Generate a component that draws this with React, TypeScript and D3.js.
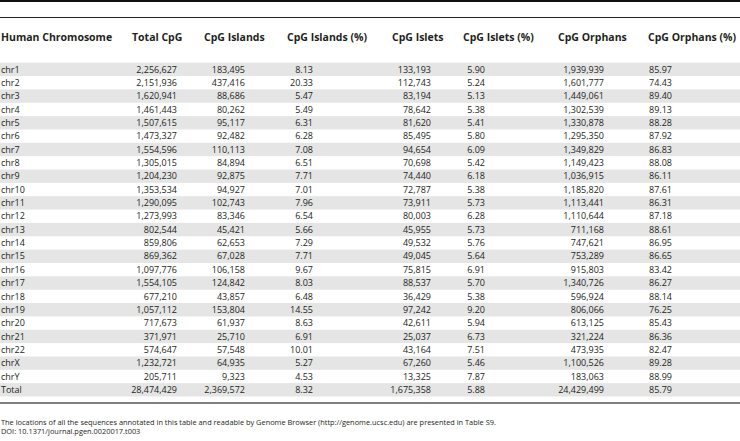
import React from 'react';
import * as d3 from 'd3';

const chromosomes = ['chr1', 'chr2', 'chr3', 'chr4', 'chr5', 'chr6', 'chr7', 'chr8', 'chr9', 'chr10', 'chr11', 'chr12', 'chr13', 'chr14', 'chr15', 'chr16', 'chr17', 'chr18', 'chr19', 'chr20', 'chr21', 'chr22', 'chrX', 'chrY', 'Total'];
const totalCpg = [2256627, 2151936, 1620941, 1461443, 1507615, 1473327, 1554596, 1305015, 1204230, 1353534, 1290095, 1273993, 802544, 859806, 869362, 1097776, 1554105, 677210, 1057112, 717673, 371971, 574647, 1232721, 205711, 28474429];
const cpgIslands = [183495, 437416, 88686, 80262, 95117, 92482, 110113, 84894, 92875, 94927, 102743, 83346, 45421, 62653, 67028, 106158, 124842, 43857, 153804, 61937, 25710, 57548, 64935, 9323, 2369572];
const islandsPct = [8.13, 20.33, 5.47, 5.49, 6.31, 6.28, 7.08, 6.51, 7.71, 7.01, 7.96, 6.54, 5.66, 7.29, 7.71, 9.67, 8.03, 6.48, 14.55, 8.63, 6.91, 10.01, 5.27, 4.53, 8.32];
const cpgIslets = [133193, 112743, 83194, 78642, 81620, 85495, 94654, 70698, 74440, 72787, 73911, 80003, 45955, 49532, 49045, 75815, 88537, 36429, 97242, 42611, 25037, 43164, 67260, 13325, 1675358];
const isletsPct = [5.90, 5.24, 5.13, 5.38, 5.41, 5.80, 6.09, 5.42, 6.18, 5.38, 5.73, 6.28, 5.73, 5.76, 5.64, 6.91, 5.70, 5.38, 9.20, 5.94, 6.73, 7.51, 5.46, 7.87, 5.88];
const cpgOrphans = [1939939, 1601777, 1449061, 1302539, 1330878, 1295350, 1349829, 1149423, 1036915, 1185820, 1113441, 1110644, 711168, 747621, 753289, 915803, 1340726, 596924, 806066, 613125, 321224, 473935, 1100526, 183063, 24429499];
const orphansPct = [85.97, 74.43, 89.40, 89.13, 88.28, 87.92, 86.83, 88.08, 86.11, 87.61, 86.31, 87.18, 88.61, 86.95, 86.65, 83.42, 86.27, 88.14, 76.25, 85.43, 86.36, 82.47, 89.28, 88.99, 85.79];

const headers = ['Human Chromosome', 'Total CpG', 'CpG Islands', 'CpG Islands (%)', 'CpG Islets', 'CpG Islets (%)', 'CpG Orphans', 'CpG Orphans (%)'];
const footnote = 'The locations of all the sequences annotated in this table and readable by Genome Browser (http://genome.ucsc.edu) are presented in Table S9.';
const doiLine = 'DOI: 10.1371/journal.pgen.0020017.t003';

const width = 740;
const height = 441;
const font = '"Open Sans", "Noto Sans", sans-serif';

const fmtInt = d3.format(',');
const fmtPct = d3.format('.2f');

// header left edges and value right edges per column
const headerX = [1, 132, 204, 287, 392, 463, 558, 648];
const valueX = [1, 177, 245, 313, 431, 485, 604, 672];

const columns = [
    { values: totalCpg, fmt: fmtInt },
    { values: cpgIslands, fmt: fmtInt },
    { values: islandsPct, fmt: fmtPct },
    { values: cpgIslets, fmt: fmtInt },
    { values: isletsPct, fmt: fmtPct },
    { values: cpgOrphans, fmt: fmtInt },
    { values: orphansPct, fmt: fmtPct },
];

const App = () => {
    const y = d3.scaleBand()
        .domain(chromosomes)
        .range([62.7, 396.5])
        .paddingInner(0);

    const textColor = '#231f20';

    return (
        <svg width={width} height={height} style={{ position: 'absolute', left: 0, top: 0 }} fontFamily={font}>
            <rect x={0} y={0} width={width} height={height} fill="#fff" />
            <line x1={0} x2={width} y1={1} y2={1} stroke="#111" strokeWidth={2} />
            <line x1={0} x2={width} y1={17.5} y2={17.5} stroke="#222" strokeWidth={1} />

            {headers.map((h, i) => (
                <text key={h} x={headerX[i]} y={37} dy="0.35em" fontSize={10.5} fontWeight="bold" fill={textColor}>{h}</text>
            ))}

            {chromosomes.map((c, i) => (
                <g key={c}>
                    {i % 2 === 0 && (
                        <rect x={0} y={y(c)} width={width} height={y.bandwidth()} fill="#e5e5e5" />
                    )}
                    <text x={valueX[0]} y={y(c)! + y.bandwidth() / 2} dy="0.35em" fontSize={9} fill={textColor}>{c}</text>
                    {columns.map((col, j) => (
                        <text key={j} x={valueX[j + 1]} y={y(c)! + y.bandwidth() / 2} dy="0.35em" fontSize={9}
                            textAnchor="end" fill={textColor}>{col.fmt(col.values[i])}</text>
                    ))}
                </g>
            ))}

            <line x1={0} x2={width} y1={403} y2={403} stroke="#555" strokeWidth={1.5} />

            <text x={1} y={422} dy="0.35em" fontSize={7.4} fill={textColor}>{footnote}</text>
            <text x={1} y={431} dy="0.35em" fontSize={7.4} fill={textColor}>{doiLine}</text>
        </svg>
    );
};

export default App;
